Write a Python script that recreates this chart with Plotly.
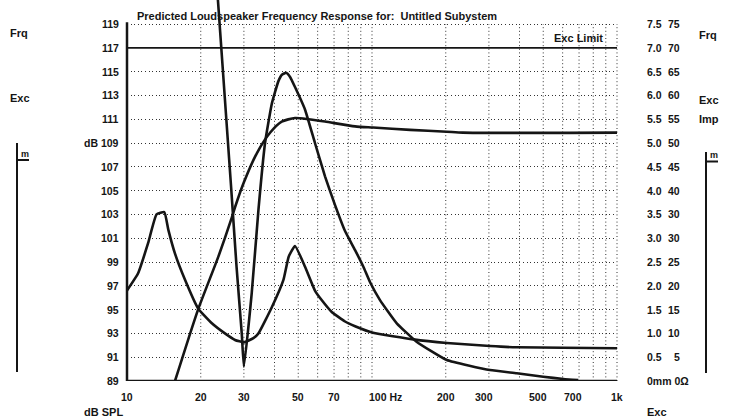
import math
import plotly.graph_objects as go

# ---- axis definitions -------------------------------------------------------
freq_ticks = [10, 20, 30, 50, 70, 100, 200, 300, 500, 700, 1000]
freq_labels = ["10", "20", "30", "50", "70", "100 Hz", "200", "300", "500", "700", "1k"]
grid_freqs = [20, 30, 40, 50, 60, 70, 80, 90, 100, 200, 300, 400, 500, 600, 700, 800, 900, 1000]

db_ticks = [89, 91, 93, 95, 97, 99, 101, 103, 105, 107, 109, 111, 113, 115, 117, 119]
db_labels = ["89", "91", "93", "95", "97", "99", "101", "103", "105", "107",
             "dB 109", "111", "113", "115", "117", "119"]
exc_labels = ["0mm 0\u03a9", "0.5", "1.0", "1.5", "2.0", "2.5", "3.0", "3.5", "4.0", "4.5",
              "5.0", "5.5", "6.0", "6.5", "7.0", "7.5"]
imp_labels = ["", "5", "10", "15", "20", "25", "30", "30", "40", "45",
              "50", "55", "60", "65", "70", "75"]

exc_limit_db = 117

# ---- curves -----------------------------------------------------------------
spl_freq = [15.7, 19.5, 23.6, 26.75, 27.6, 30.0, 34.0, 38.5, 42.8, 48.5, 55.0,
            64.3, 85.3, 101, 143, 202, 235, 1000]
spl_db = [89.0, 95.0, 99.45, 102.7, 103.6, 105.7, 108.2, 109.9, 110.8, 111.1, 111.0,
          110.8, 110.4, 110.3, 110.1, 109.95, 109.87, 109.87]

imp_freq = [10, 11.1, 12.2, 13.2, 14.2, 14.75, 15.7, 17.25, 19.5, 22.2, 25.1, 27.6,
            30.0, 32.8, 34.4, 39.0, 43.5, 45.7, 48.5, 53.3, 58.5, 62.3, 68.5, 77.6,
            85.3, 101, 147.5, 202, 303, 390, 603, 1000]
imp_db = [96.6, 98.05, 100.6, 103.0, 103.2, 101.7, 99.7, 97.5, 95.1, 93.85, 93.0, 92.45,
          92.25, 92.6, 93.0, 95.2, 97.5, 99.45, 100.35, 98.6, 96.6, 95.8, 94.8, 94.0,
          93.6, 93.05, 92.5, 92.2, 91.94, 91.83, 91.8, 91.75]

exc_freq = [23.45, 26.6, 28.0, 29.4, 30.0, 32.3, 34.4, 36.6, 39.0, 41.5, 43.0, 44.6,
            46.3, 48.5, 53.3, 58.5, 64.3, 70.6, 77.6, 85.3, 92.2, 98.2, 107.8, 126.2,
            152, 202, 303, 390, 500, 604, 695]
exc_db = [121.3, 105.3, 98.6, 93.0, 90.2, 96.4, 103.4, 109.0, 112.3, 114.2, 114.75, 114.9,
          114.55, 113.7, 111.8, 109.0, 106.2, 103.8, 101.6, 100.0, 98.6, 97.3, 95.8, 93.85,
          92.3, 90.76, 89.92, 89.65, 89.36, 89.17, 89.08]

# ---- layout geometry (pixels) ----------------------------------------------
W, H = 730, 419
L, R, T, B = 127, 113, 0, 38
PW, PH = W - L - R, H - T - B
DB_PER_PX = 1 / 11.9
y_top = 89 + PH * DB_PER_PX
X_LOG_RANGE = [1, 3]

FONT = "Liberation Sans, Arial, Helvetica, sans-serif"
INK = "#151515"
DOT = "1px,2.6px"
FS = 11


def paper(px, py):
    return (px - L) / PW, (H - B - py) / PH


def freq_to_paper(f):
    return (math.log10(f) - X_LOG_RANGE[0]) / (X_LOG_RANGE[1] - X_LOG_RANGE[0])


fig = go.Figure()

line_style = dict(color=INK, width=2.6)
fig.add_trace(go.Scatter(x=[freq_ticks[0], freq_ticks[-1]], y=[exc_limit_db, exc_limit_db],
                         mode="lines", line=dict(color=INK, width=1.8), hoverinfo="skip"))
fig.add_trace(go.Scatter(x=spl_freq, y=spl_db, mode="lines", line=line_style,
                         line_shape="spline", line_smoothing=0.6, name="SPL"))
fig.add_trace(go.Scatter(x=imp_freq, y=imp_db, mode="lines", line=line_style,
                         line_shape="spline", line_smoothing=0.4, name="Imp"))
fig.add_trace(go.Scatter(x=exc_freq, y=exc_db, mode="lines", line=line_style,
                         line_shape="spline", line_smoothing=0.4, name="Exc"))

shapes = []
# vertical dotted grid, limited to the dB scale
for f in grid_freqs:
    xp = freq_to_paper(f)
    shapes.append(dict(type="line", xref="paper", yref="y", x0=xp, x1=xp,
                       y0=db_ticks[0], y1=db_ticks[-1], layer="below",
                       line=dict(color="#333", width=1, dash=DOT)))
# frame: left and bottom axis lines
shapes.append(dict(type="line", xref="paper", yref="y", x0=0, x1=0, y0=89, y1=119.15,
                   line=dict(color=INK, width=2.5)))
shapes.append(dict(type="line", xref="paper", yref="y", x0=0, x1=1, y0=89, y1=89,
                   line=dict(color=INK, width=2.5)))
# side scale markers
for (xa, ya, xb, yb) in [(17, 143, 17, 372), (17, 160, 29, 160),
                         (706, 152, 706, 373), (706, 161.5, 718, 161.5)]:
    x0, y0 = paper(xa, ya)
    x1, y1 = paper(xb, yb)
    shapes.append(dict(type="line", xref="paper", yref="paper", x0=x0, y0=y0, x1=x1, y1=y1,
                       line=dict(color=INK, width=2)))

ann = []


def font(size=FS):
    return dict(family=FONT, size=size, color=INK, weight="bold")


def text(s, px, py, anchor="left", size=FS):
    x, y = paper(px, py)
    ann.append(dict(text=s, x=x, y=y, xref="paper", yref="paper", xanchor=anchor,
                    yanchor="middle", showarrow=False, font=font(size)))


# left dB scale
for v, s in zip(db_ticks, db_labels):
    ann.append(dict(text=s, x=0, xref="paper", y=v, yref="y", xanchor="right",
                    yanchor="middle", xshift=-6, showarrow=False, font=font(10.5)))
# right excursion / impedance scales
for v, s1, s2 in zip(db_ticks, exc_labels, imp_labels):
    ann.append(dict(text=s1, x=1, xref="paper", y=v, yref="y", xanchor="left",
                    yanchor="middle", xshift=28, showarrow=False, font=font(10.5)))
    if s2:
        ann.append(dict(text=s2, x=1, xref="paper", y=v, yref="y", xanchor="right",
                        yanchor="middle", xshift=65, showarrow=False, font=font(10.5)))
# frequency scale
label_shift = {"100 Hz": 13, "300": -5, "500": -5, "700": -6}
for f, s in zip(freq_ticks, freq_labels):
    ann.append(dict(text=s, x=freq_to_paper(f), xref="paper", y=0, yref="paper",
                    xanchor="center", yanchor="middle", yshift=-16,
                    xshift=label_shift.get(s, 0), showarrow=False, font=font(10.5)))

text("Predicted Loudspeaker Frequency Response for:  Untitled Subystem", 135, 16)
text("Exc Limit", 552, 38)
text("Frq", 8, 33)
text("Exc", 8, 98)
text("m", 19, 154, size=9)
text("Frq", 697, 35)
text("Exc", 697, 100)
text("Imp", 697, 119)
text("m", 708, 155, size=9)
text("dB SPL", 82, 412)
text("Exc", 645, 412)

fig.update_layout(
    width=W, height=H,
    margin=dict(l=L, r=R, t=T, b=B, pad=0),
    paper_bgcolor="white", plot_bgcolor="white",
    showlegend=False,
    shapes=shapes, annotations=ann,
    xaxis=dict(type="log", range=X_LOG_RANGE, showgrid=False, showticklabels=False,
               ticks="", zeroline=False, showline=False, fixedrange=True),
    yaxis=dict(range=[89, y_top], tickvals=db_ticks, showticklabels=False, ticks="",
               showgrid=True, gridcolor="#333", gridwidth=1, griddash=DOT,
               zeroline=False, showline=False, fixedrange=True),
)

fig.write_html("out.html", config={"displayModeBar": False})
